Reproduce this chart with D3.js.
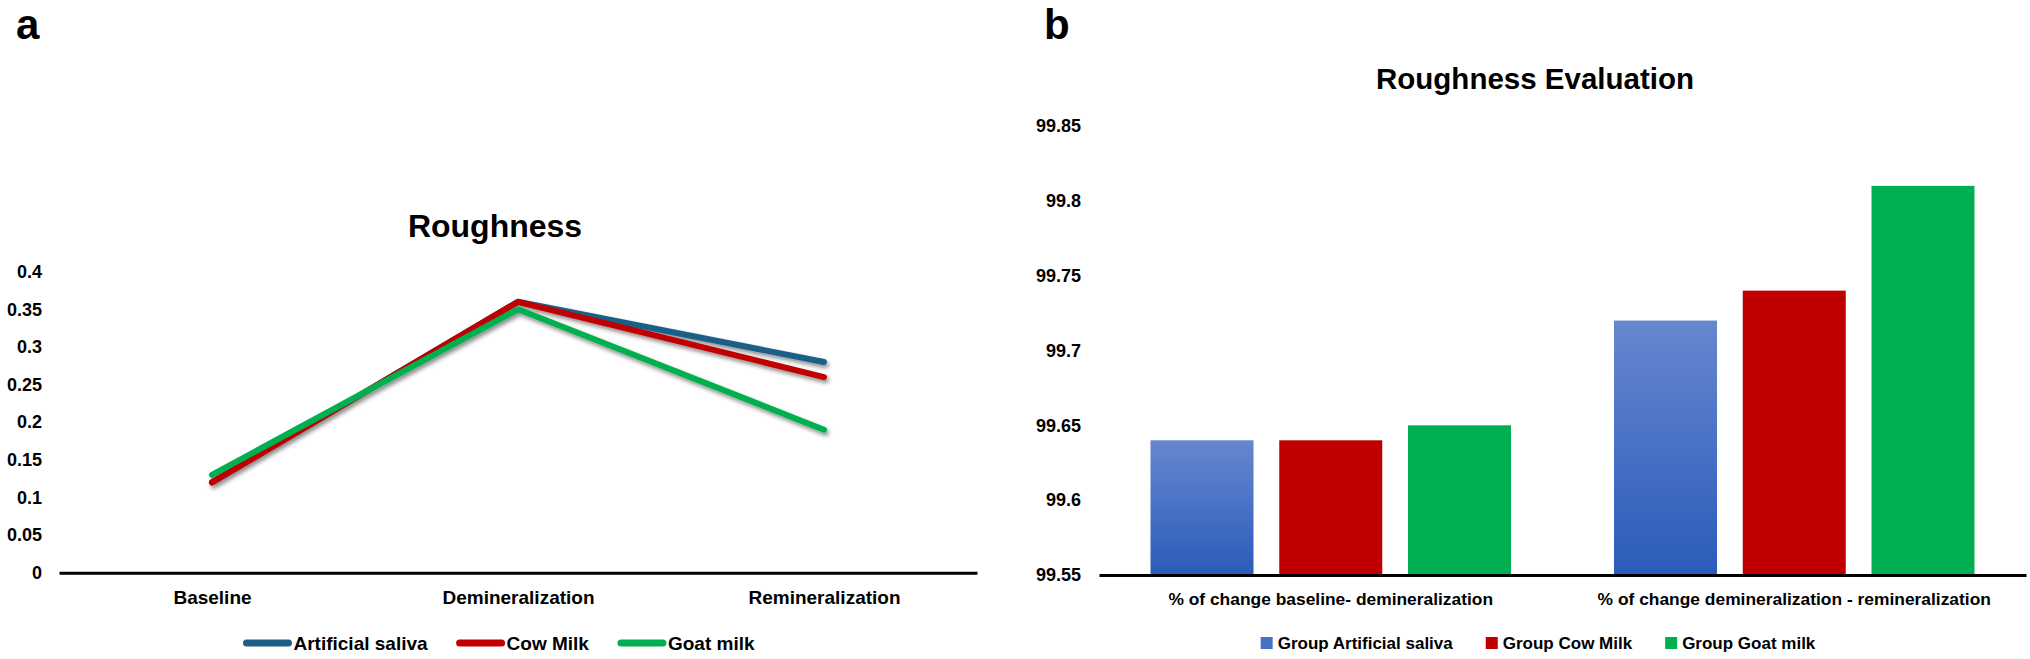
<!DOCTYPE html>
<html>
<head>
<meta charset="utf-8">
<script src="https://cdn.jsdelivr.net/npm/d3@7"></script>
<style>
  html, body { margin: 0; padding: 0; background: #fff; }
  svg { display: block; font-family: "Liberation Sans", Arial, sans-serif; }
</style>
</head>
<body>
<svg id="chart" width="2030" height="659"></svg>
<script>
// ---------- Data: panel a (line chart) ----------
const stages = ["Baseline", "Demineralization", "Remineralization"];
const lineSeriesNames = ["Artificial saliva", "Cow Milk", "Goat milk"];
const artificialSaliva = [0.12, 0.36, 0.28];
const cowMilk = [0.12, 0.36, 0.26];
const goatMilk = [0.13, 0.35, 0.19];
const roughnessTicks = [0, 0.05, 0.1, 0.15, 0.2, 0.25, 0.3, 0.35, 0.4];

// ---------- Data: panel b (bar chart) ----------
const changeGroups = ["% of change baseline- demineralization", "% of change demineralization - remineralization"];
const barSeriesNames = ["Group Artificial saliva", "Group Cow Milk", "Group Goat milk"];
const groupArtificialSaliva = [99.64, 99.72];
const groupCowMilk = [99.64, 99.74];
const groupGoatMilk = [99.65, 99.81];
const evaluationTicks = [99.55, 99.6, 99.65, 99.7, 99.75, 99.8, 99.85];

const lineColors = ["#1d5f86", "#c00000", "#00b050"];
const barColors = ["url(#blueGrad)", "#c00000", "#00b050"];
const barLegendColors = ["#4472c4", "#c00000", "#00b050"];

const svg = d3.select("#chart");
const defs = svg.append("defs");
const f = defs.append("filter").attr("id", "shadow")
  .attr("x", "-10%").attr("y", "-10%").attr("width", "130%").attr("height", "140%");
f.append("feDropShadow").attr("dx", 2).attr("dy", 3).attr("stdDeviation", 2)
  .attr("flood-color", "#000").attr("flood-opacity", 0.45);
const g1 = defs.append("linearGradient").attr("id", "blueGrad")
  .attr("x1", 0).attr("y1", 0).attr("x2", 0).attr("y2", 1);
g1.append("stop").attr("offset", "0%").attr("stop-color", "#6687cf");
g1.append("stop").attr("offset", "100%").attr("stop-color", "#2b5bba");

const fmt = d => String(+d.toFixed(2));

// ================= Panel a =================
const A = svg.append("g");
A.append("text").attr("x", 16).attr("y", 39).attr("font-size", 42).attr("font-weight", "bold")
  .text("a");
A.append("text").attr("x", 495).attr("y", 237).attr("text-anchor", "middle")
  .attr("font-size", 32).attr("font-weight", "bold").text("Roughness");

const yA = d3.scaleLinear().domain([0, 0.4]).range([572.7, 271.7]);
const xA = d3.scalePoint().domain(stages).range([59, 977]).padding(0.5);

const yAxisA = A.append("g").attr("transform", "translate(42,0)")
  .call(d3.axisLeft(yA).tickValues(roughnessTicks).tickFormat(fmt).tickSize(0).tickPadding(0));
yAxisA.select(".domain").remove();
yAxisA.selectAll("text").attr("font-size", 18).attr("font-weight", "bold")
  .attr("fill", "#000").attr("font-family", "Liberation Sans, Arial, sans-serif");

const xAxisA = A.append("g").attr("transform", `translate(0,${yA(0)})`)
  .call(d3.axisBottom(xA).tickSize(0).tickSizeOuter(0).tickPadding(18));
xAxisA.select(".domain").attr("stroke", "#000").attr("stroke-width", 3);
xAxisA.selectAll("text").attr("font-size", 19).attr("font-weight", "bold")
  .attr("fill", "#000").attr("font-family", "Liberation Sans, Arial, sans-serif");

const lineData = [artificialSaliva, cowMilk, goatMilk];
const line = d3.line().x((d, i) => xA(stages[i])).y(d => yA(d));
A.append("g").attr("filter", "url(#shadow)")
  .selectAll("path").data(lineData).join("path")
  .attr("d", line).attr("fill", "none")
  .attr("stroke", (d, i) => lineColors[i]).attr("stroke-width", 6)
  .attr("stroke-linecap", "round").attr("stroke-linejoin", "round");

// legend a
const legA = A.append("g");
let cx = 0;
lineSeriesNames.forEach((name, i) => {
  const it = legA.append("g").attr("transform", `translate(${cx},0)`);
  it.append("line").attr("x1", 3).attr("x2", 45).attr("y1", 0).attr("y2", 0)
    .attr("stroke", lineColors[i]).attr("stroke-width", 7).attr("stroke-linecap", "round");
  const t = it.append("text").attr("x", 50).attr("y", 6.5).attr("font-size", 19)
    .attr("font-weight", "bold").text(name);
  cx += 50 + t.node().getComputedTextLength() + 29;
});
cx -= 29;
legA.attr("transform", `translate(${499 - cx / 2},643)`);

// ================= Panel b =================
const B = svg.append("g");
B.append("text").attr("x", 1044).attr("y", 39).attr("font-size", 42).attr("font-weight", "bold")
  .text("b");
B.append("text").attr("x", 1535).attr("y", 89).attr("text-anchor", "middle")
  .attr("font-size", 29.5).attr("font-weight", "bold").text("Roughness Evaluation");

const yB = d3.scaleLinear().domain([99.55, 99.85]).range([575, 126]);
const x0 = d3.scaleBand().domain(changeGroups).range([1099, 2026]).padding(0);
const x1 = d3.scaleBand().domain(barSeriesNames).range([0, x0.bandwidth()])
  .paddingInner(0.2).paddingOuter(0.4);

const yAxisB = B.append("g").attr("transform", "translate(1081,0)")
  .call(d3.axisLeft(yB).tickValues(evaluationTicks).tickFormat(fmt).tickSize(0).tickPadding(0));
yAxisB.select(".domain").remove();
yAxisB.selectAll("text").attr("font-size", 18).attr("font-weight", "bold")
  .attr("fill", "#000").attr("font-family", "Liberation Sans, Arial, sans-serif");

const barData = [groupArtificialSaliva, groupCowMilk, groupGoatMilk];
const groupsSel = B.append("g").selectAll("g").data(changeGroups).join("g")
  .attr("transform", d => `translate(${x0(d)},0)`);
groupsSel.selectAll("rect")
  .data((g, gi) => barSeriesNames.map((s, si) => ({ s, si, v: barData[si][gi] })))
  .join("rect")
  .attr("x", d => x1(d.s)).attr("width", x1.bandwidth())
  .attr("y", d => yB(d.v)).attr("height", d => yB(99.55) - yB(d.v))
  .attr("fill", d => barColors[d.si]);

const xAxisB = B.append("g").attr("transform", `translate(0,${yB(99.55)})`)
  .call(d3.axisBottom(x0).tickSize(0).tickSizeOuter(0).tickPadding(18));
xAxisB.select(".domain").attr("stroke", "#000").attr("stroke-width", 3);
xAxisB.selectAll("text").attr("font-size", 17.4).attr("font-weight", "bold")
  .attr("fill", "#000").attr("font-family", "Liberation Sans, Arial, sans-serif");

// legend b
const legB = B.append("g");
cx = 0;
barSeriesNames.forEach((name, i) => {
  const it = legB.append("g").attr("transform", `translate(${cx},0)`);
  it.append("rect").attr("x", 0).attr("y", -6).attr("width", 12).attr("height", 12)
    .attr("fill", barLegendColors[i]);
  const t = it.append("text").attr("x", 17).attr("y", 6).attr("font-size", 17)
    .attr("font-weight", "bold").text(name);
  cx += 17 + t.node().getComputedTextLength() + 33;
});
cx -= 33;
legB.attr("transform", `translate(${1538 - cx / 2},643)`);
</script>
</body>
</html>
